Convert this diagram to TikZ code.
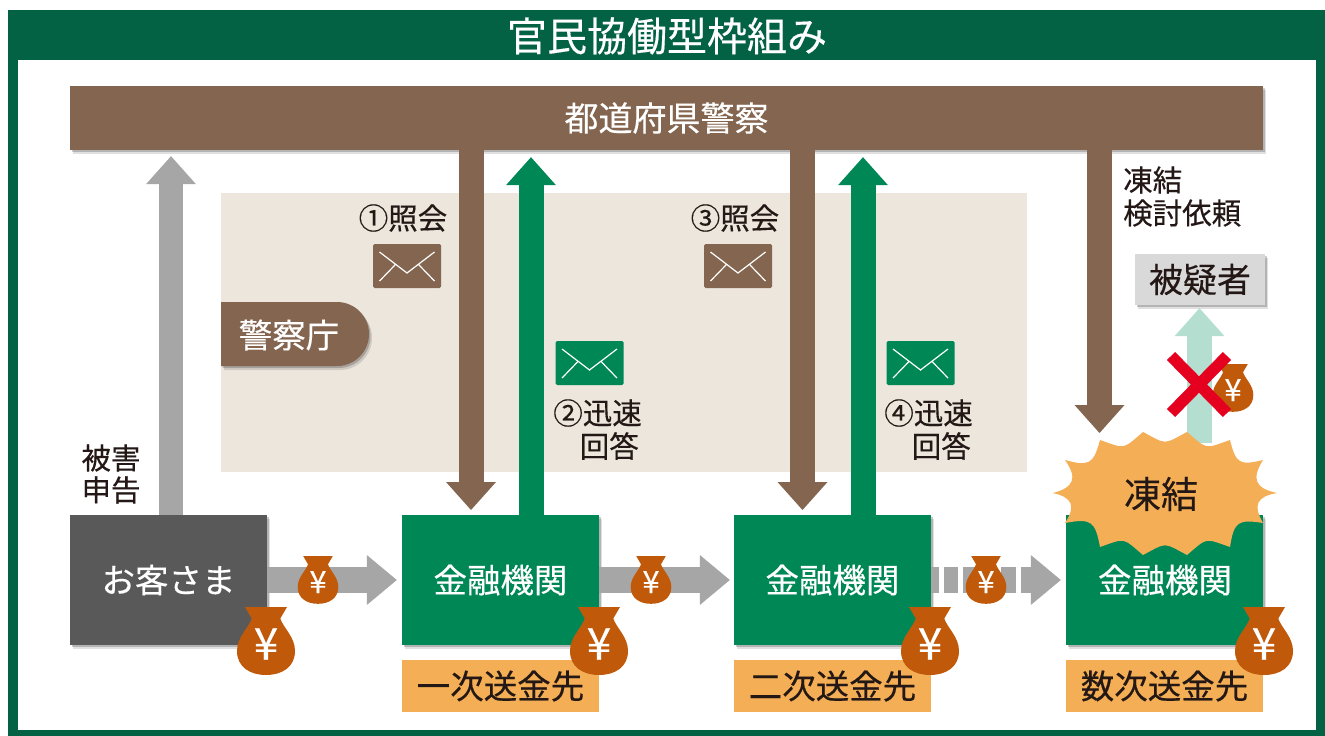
\documentclass[tikz,border=0pt]{standalone}
\usepackage{fontspec}
\setmainfont{Noto Sans CJK JP}[FakeBold=0.35]
\usetikzlibrary{arrows.meta,shapes,positioning,calc,shadows}
\definecolor{framegreen}{HTML}{046244}
\definecolor{bankgreen}{HTML}{008756}
\definecolor{policebrown}{HTML}{846650}
\definecolor{panelbeige}{HTML}{EDE6DD}
\definecolor{flowgray}{HTML}{A6A6A6}
\definecolor{custgray}{HTML}{595959}
\definecolor{labelorange}{HTML}{F4AE55}
\definecolor{bagbrown}{HTML}{C05A0A}
\definecolor{paleteal}{HTML}{B4DFD0}
\definecolor{suspectgray}{HTML}{D9D9D9}
\definecolor{inkdark}{HTML}{231815}
\definecolor{crossred}{HTML}{E60020}
\tikzset{
  softshadow/.style={
    drop shadow={shadow xshift=3pt,shadow yshift=-4pt,opacity=0.12,fill=black},
    drop shadow={shadow xshift=1.5pt,shadow yshift=-2pt,opacity=0.2,fill=black}},
  bankbox/.style={fill=bankgreen,minimum width=197pt,minimum height=130pt,inner sep=0pt,text=white,font=\fontsize{33.5}{35}\selectfont,softshadow},
  steplabel/.style={fill=labelorange,minimum width=197pt,minimum height=52pt,inner sep=0pt,text=inkdark,font=\fontsize{33.5}{35}\selectfont},
  smalltext/.style={inner sep=0pt,text=inkdark,font=\fontsize{29.5}{31}\selectfont},
  vflow/.style={line width=25pt,-{Triangle[width=50pt,length=28pt,line width=0pt]}},
  hflow/.style={line width=26pt,draw=flowgray,-{Triangle[width=50pt,length=30pt,line width=0pt]}},
  bite/.style={bend right=#1,looseness=1.6},
  envelope/.pic={
    \fill[pic actions,rounded corners=1.5pt] (-34,-22) rectangle (34,22);
    \draw[white,line width=1.2pt] (-27.5,-14) -- (0,7) -- (27.5,-14) (-27.5,15) -- (-12,-1) (27.5,15) -- (12,-1);
  },
  yenbag/.pic={
    \fill[bagbrown] (-21,-34) -- (21,-34) -- (14,-22) -- (-14,-22) -- cycle;
    \fill[bagbrown] (-14,-23) .. controls (-18,-12) and (-29,-4) .. (-29,10)
      .. controls (-29,26) and (-16,34) .. (0,34)
      .. controls (16,34) and (29,26) .. (29,10)
      .. controls (29,-4) and (18,-12) .. (14,-23) -- cycle;
    \node[transform shape,inner sep=0pt,text=white,font=\fontsize{44}{46}\selectfont] (-yen) at (0,3) {¥};
  },
}
\begin{document}
\begin{tikzpicture}[x=1pt,y=-1pt]
  \useasboundingbox (0,0) rectangle (1325,736);
  % frame and title band
  \fill[framegreen] (8,10) rectangle (1325,736);
  \fill[white] (18,60) rectangle (1316,730);
  \node[inner sep=0pt,text=white,font=\fontsize{40}{42}\selectfont] (title) at (667,36) {官民協働型枠組み};

  % panel behind the enquiries
  \fill[panelbeige] (221,193) rectangle (1027,472);

  \node[fill=policebrown,minimum width=1193pt,minimum height=64pt,inner sep=0pt,text=white,font=\fontsize{34}{36}\selectfont,softshadow] (pref) at (666.5,118) {都道府県警察};
  \node[fill=custgray,minimum width=197pt,minimum height=130pt,inner sep=0pt,text=white,font=\fontsize{33.5}{35}\selectfont,softshadow] (cust) at (168.5,580) {お客さま};
  \node[bankbox] (bank1) at (500.5,580) {金融機関};
  \node[bankbox] (bank2) at (832.5,580) {金融機関};
  \node[bankbox] (bank3) at (1164.5,580) {};
  \node[steplabel] (label1) at (500.5,686) {一次送金先};
  \node[steplabel] (label2) at (832.5,686) {二次送金先};
  \node[steplabel] (label3) at (1164.5,686) {数次送金先};

  % police agency tab
  \fill[policebrown,softshadow] (221,302) -- (337,302) arc[start angle=90,end angle=-90,radius=32pt] -- (221,366) -- cycle;
  \node[inner sep=0pt,text=white,font=\fontsize{33.5}{35}\selectfont] (npa) at (289,335) {警察庁};

  % report arrow
  \coordinate (rep) at (171,515);
  \draw[vflow,draw=flowgray,line width=24pt,shorten >=6pt] (cust.north -| rep) -- (pref.south -| rep);

  % enquiries down            tip of arrow
  \coordinate (ask1) at (471,510);
  \coordinate (ask2) at (802.5,510);
  \coordinate (ask3) at (1099.5,433);
  \draw[vflow,draw=policebrown] (pref.south -| ask1) -- (ask1);
  \draw[vflow,draw=policebrown] (pref.south -| ask2) -- (ask2);

  % answers up
  \coordinate (ans1) at (531,515);
  \coordinate (ans2) at (863,515);
  \draw[vflow,draw=bankgreen,shorten >=7pt] (bank1.north -| ans1) -- (pref.south -| ans1);
  \draw[vflow,draw=bankgreen,shorten >=7pt] (bank2.north -| ans2) -- (pref.south -| ans2);

  % money flow
  \draw[hflow,shorten >=5pt] (cust.east) -- (bank1.west);
  \draw[hflow,shorten >=4pt] (bank1.east) -- (bank2.west);
  \draw[hflow,shorten >=5pt,dash pattern=on 8pt off 5pt on 14pt off 5pt on 14pt off 5pt on 14pt off 5pt on 15pt off 5pt on 40pt] (bank2.east) -- (bank3.west);

  % labels and envelopes
  \node[smalltext] (ask1txt) at (403,218) {①照会};
  \node[smalltext] (ask2txt) at (735,218) {③照会};
  \pic[fill=policebrown] at (407,266) {envelope};
  \pic[fill=policebrown] at (738,266) {envelope};
  \pic[fill=bankgreen] at (589.5,363) {envelope};
  \pic[fill=bankgreen] at (920.5,363) {envelope};
  \node[smalltext,anchor=east] (ans1txt) at (642,413) {②迅速};
  \node[smalltext,anchor=east] (ans1txtb) at (639,446) {回答};
  \node[smalltext,anchor=east] (ans2txt) at (973,413) {④迅速};
  \node[smalltext,anchor=east] (ans2txtb) at (971,446) {回答};
  \node[smalltext] (rep1) at (111,458) {被害};
  \node[smalltext] (rep2) at (111,490) {申告};
  \node[smalltext,anchor=west] (req1) at (1123,180) {凍結};
  \node[smalltext,anchor=west] (req2) at (1123,213) {検討依頼};

  % suspect, blocked transfer
  \node[fill=suspectgray,minimum width=130pt,minimum height=51pt,inner sep=0pt,text=inkdark,font=\fontsize{34}{36}\selectfont,softshadow] (suspect) at (1200,279.5) {被疑者};
  \coordinate (blocked) at (1199.5,443);
  \draw[vflow,draw=paleteal,shorten >=3pt] (blocked) -- (suspect.south -| blocked);
  \draw[vflow,draw=policebrown] (pref.south -| ask3) -- (ask3);

  % freeze burst
  \fill[labelorange] (1053,493) to[bite=55] (1065,460) to[bite=45] (1100,440)
    to[bite=30] (1143,432) to[bite=28] (1187,432) to[bite=30] (1230,440)
    to[bite=45] (1263,460) to[bite=55] (1277,493) to[bite=55] (1263,523)
    to[bite=45] (1230,547) to[bite=30] (1187,555) to[bite=28] (1143,555)
    to[bite=30] (1100,547) to[bite=45] (1065,523) to[bite=55] cycle;
  \node[inner sep=0pt,text=inkdark,font=\fontsize{37}{39}\selectfont] (freeze) at (1161,494) {凍結};
  \node[inner sep=0pt,text=white,font=\fontsize{33.5}{35}\selectfont] (bank3txt) at (1165,580) {金融機関};

  % money bags
  \pic[scale=0.7] (flow1) at (318,580) {yenbag};
  \pic[scale=0.7] (flow2) at (651,580) {yenbag};
  \pic[scale=0.7] (flow3) at (986,580) {yenbag};
  \pic (bag0) at (266,641) {yenbag};
  \pic (bag1) at (599,641) {yenbag};
  \pic (bag2) at (930,641) {yenbag};
  \pic (bag3) at (1264,641) {yenbag};
  \pic[scale=0.7] (held) at (1233,388) {yenbag};

  % cross
  \draw[crossred,line width=11.5pt] (1171,356) -- (1227,413) (1227,356) -- (1171,413);
\end{tikzpicture}
\end{document}
